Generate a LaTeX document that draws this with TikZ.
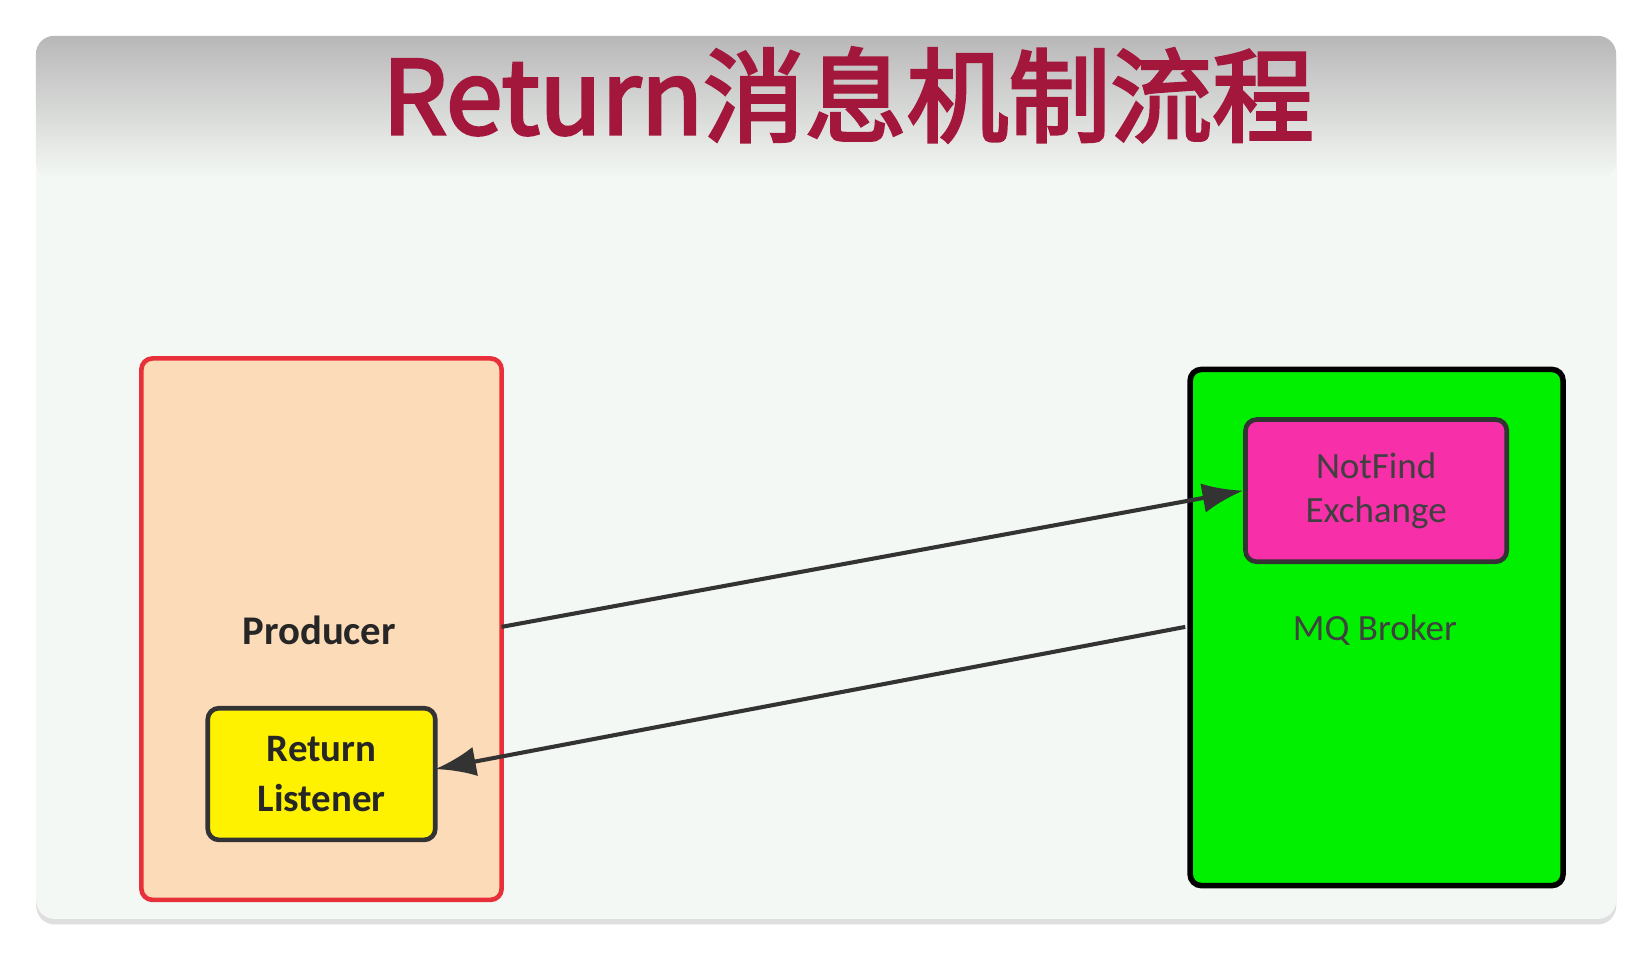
\documentclass[tikz,border=0pt]{standalone}
\usepackage{fontspec}
\setmainfont{Carlito}
\newfontfamily\cjk[FakeBold=3]{Noto Sans CJK SC}
\usetikzlibrary{arrows.meta,shadows}
\definecolor{titlered}{HTML}{A3173C}
\definecolor{peach}{HTML}{FCDCB8}
\definecolor{pred}{HTML}{E8303A}
\definecolor{mqgreen}{HTML}{00F000}
\definecolor{pinkx}{HTML}{F72FA8}
\definecolor{bg}{HTML}{F4F8F4}
\tikzset{
 box/.style={draw, rounded corners=6pt, line width=2.5pt},
 conn/.style={line width=2.2pt, draw=black!80, -{Latex[length=22pt,width=16pt]}},
 lbl/.style={font=\fontsize{22}{25}\selectfont\bfseries, align=center, text=black!85},
}
\begin{document}
\begin{tikzpicture}[x=0.02cm,y=-0.02cm]
\useasboundingbox (0,0) rectangle (1568,907);
\fill[white] (0,0) rectangle (1568,907);
\node[inner sep=0, minimum width=30cm, minimum height=16.76cm, anchor=north west, rounded corners=10pt,
  fill=bg, drop shadow={shadow xshift=0pt, shadow yshift=-3pt, opacity=0.25}] (card) at (34,34) {};
\shade[top color=black!28, bottom color=bg, rounded corners=10pt] (34,34) -- (1534,34) -- (1534,170) -- (34,170) -- cycle;
\fill[bg] (34,168) rectangle (1534,175);
\node[text=titlered, font=\cjk\fontsize{55}{62}\selectfont] (title) at (805,90) {Return消息机制流程};
\node[box, draw=pred, fill=peach, minimum width=6.84cm, minimum height=10.28cm, anchor=north west] (prod) at (132,338) {};
\node[lbl] (plbl) at (303,598) {Producer};
\node[box, draw=black!80, fill=yellow, minimum width=4.32cm, minimum height=2.5cm, anchor=north west, align=center] (rl) at (195,670) {};
\node[lbl, font=\fontsize{21}{27}\selectfont\bfseries] at (rl) {Return\\Listener};
\node[box, draw=black, line width=3pt, fill=mqgreen, minimum width=7.08cm, minimum height=9.8cm, anchor=north west] (mq) at (1127,348) {};
\node[font=\fontsize{20}{22}\selectfont, text=black!75] (mqlbl) at (1305,598) {MQ Broker};
\node[box, draw=black!80, fill=pinkx, minimum width=4.96cm, minimum height=2.7cm, anchor=north west] (ex) at (1180,396) {};
\node[font=\fontsize{20}{24}\selectfont, align=center, text=black!75] at (ex) {NotFind\\Exchange};
\coordinate (a1) at (476,595);
\coordinate (b2) at (1125,595);
\coordinate (rlE) at (413,730);
\draw[conn] (a1) -- (ex.west);
\draw[conn] (b2) -- (rlE);
\end{tikzpicture}
\end{document}
